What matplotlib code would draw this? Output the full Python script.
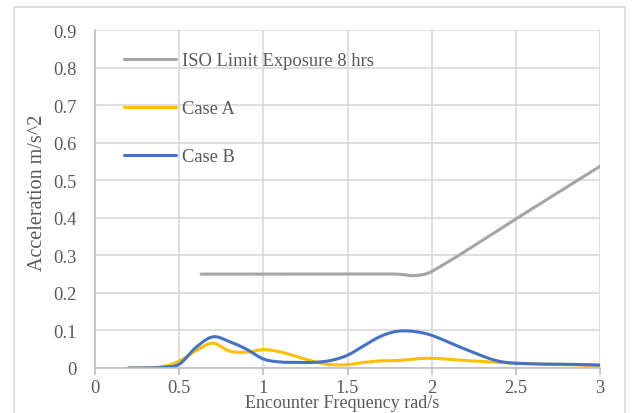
import numpy as np
import matplotlib
matplotlib.use("Agg")
import matplotlib.pyplot as plt
from matplotlib.patches import Rectangle

iso_x = [0.63, 0.8, 1.0, 1.25, 1.6, 1.8, 1.9, 2.0, 2.5, 3.0]
iso_y = [0.25, 0.25, 0.25, 0.25, 0.25, 0.25, 0.246, 0.257, 0.397, 0.537]

freq = [0.2, 0.3, 0.4, 0.5, 0.6, 0.7, 0.8, 0.9, 1.0, 1.1, 1.2, 1.3, 1.4, 1.5,
        1.6, 1.7, 1.8, 1.9, 2.0, 2.2, 2.4, 2.6, 2.8, 3.0]
case_a = [0.0, 0.0, 0.003, 0.018, 0.046, 0.066, 0.045, 0.042, 0.049, 0.043,
          0.030, 0.017, 0.009, 0.009, 0.015, 0.019, 0.020, 0.024, 0.026,
          0.020, 0.015, 0.011, 0.009, 0.006]
case_b = [0.0, 0.0, 0.002, 0.010, 0.055, 0.083, 0.070, 0.050, 0.024, 0.016,
          0.015, 0.015, 0.020, 0.034, 0.060, 0.085, 0.098, 0.097, 0.087,
          0.050, 0.018, 0.011, 0.010, 0.008]

labels = ["ISO Limit Exposure 8 hrs", "Case A", "Case B"]
colors = ["#A5A5A5", "#FFC000", "#4472C4"]


def smooth(x, y, n=30):
    # cubic Hermite curve through the points (like Excel's smoothed line)
    x = np.asarray(x, float)
    y = np.asarray(y, float)
    d = np.zeros_like(y)
    d[1:-1] = (y[2:] - y[:-2]) / (x[2:] - x[:-2])
    d[0] = (y[1] - y[0]) / (x[1] - x[0])
    d[-1] = (y[-1] - y[-2]) / (x[-1] - x[-2])
    xs, ys = [], []
    s = np.linspace(0, 1, n, endpoint=False)
    for i in range(len(x) - 1):
        h = x[i + 1] - x[i]
        h00 = 2 * s**3 - 3 * s**2 + 1
        h10 = s**3 - 2 * s**2 + s
        h01 = -2 * s**3 + 3 * s**2
        h11 = s**3 - s**2
        xs.extend(x[i] + s * h)
        ys.extend(h00 * y[i] + h10 * h * d[i] + h01 * y[i + 1] + h11 * h * d[i + 1])
    xs.append(x[-1])
    ys.append(y[-1])
    return np.array(xs), np.array(ys)


plt.rcParams['font.family'] = ['Liberation Serif', 'DejaVu Serif']
txt = "#595959"

fig = plt.figure(figsize=(6.33, 4.14), dpi=100)
fig.patches.append(Rectangle((14 / 633, -0.1), (625 - 14) / 633, 1 - 8 / 414 + 0.1,
                             transform=fig.transFigure, fill=False,
                             edgecolor="#D9D9D9", linewidth=1.2))
ax = fig.add_axes([95 / 633, 1 - 369 / 414, (600 - 95) / 633, (369 - 31) / 414])

for (xx, yy), lab, c in zip([(iso_x, iso_y), (freq, case_a), (freq, case_b)], labels, colors):
    sx, sy = smooth(xx, yy)
    ax.plot(sx, sy, color=c, lw=2.2, label=lab, solid_capstyle='round')

ax.set_xlim(0, 3)
ax.set_ylim(0, 0.9)
ax.set_xticks(np.arange(0, 3.01, 0.5))
ax.set_xticklabels(["0", "0.5", "1", "1.5", "2", "2.5", "3"])
ax.set_yticks(np.arange(0, 0.91, 0.1))
ax.set_yticklabels(["0"] + [f"{v:.1f}" for v in np.arange(0.1, 0.91, 0.1)])
ax.grid(True, color="#D9D9D9", lw=1.2)
ax.set_axisbelow(True)
for s in ["top", "right"]:
    ax.spines[s].set_visible(False)
for s in ["left", "bottom"]:
    ax.spines[s].set_color("#BFBFBF")
    ax.spines[s].set_linewidth(1.2)
ax.tick_params(axis='x', length=5, color="#BFBFBF", width=1.2, labelsize=13.3,
               labelcolor=txt, pad=3)
ax.tick_params(axis='y', length=0, labelsize=13.3, labelcolor=txt, pad=13)

ax.set_xlabel("Encounter Frequency rad/s", fontsize=13, color=txt)
ax.xaxis.set_label_coords((342 - 95) / 505, (369 - 404) / 338)
ax.xaxis.label.set_va('center')
ax.set_ylabel("Acceleration m/s^2", fontsize=14.5, color=txt)
ax.yaxis.set_label_coords((37 - 95) / 505, (369 - 193) / 338)
ax.yaxis.label.set_va('center')

leg = ax.legend(loc="upper left", bbox_to_anchor=((124 - 95) / 505, (369 - 53) / 338),
                frameon=False, borderpad=0, borderaxespad=0,
                fontsize=13.3, labelspacing=1.69, handlelength=2.8, handletextpad=0.32,
                labelcolor=txt)

fig.savefig("out.png", dpi=100)
